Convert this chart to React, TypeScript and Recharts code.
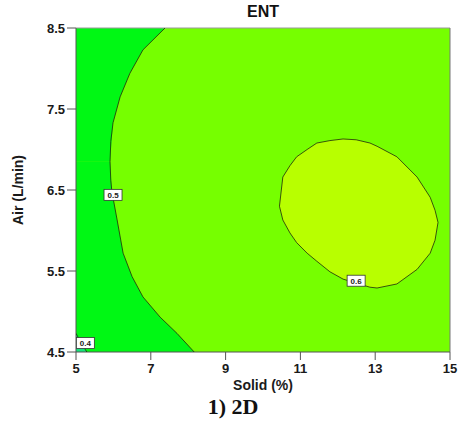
import React from 'react';
import {
  ComposedChart,
  Area,
  Scatter,
  XAxis,
  YAxis,
  CartesianGrid,
  ReferenceLine,
  Label,
} from 'recharts';

// axis ticks
const solidTicks = [5, 7, 9, 11, 13, 15];
const airTicks = [4.5, 5.5, 6.5, 7.5, 8.5];

// 0.5 contour, upper branch (dark green above it)
const contour05Upper = [
  { solid: 5, air: 6.85 },
  { solid: 5.91, air: 6.85 },
  { solid: 5.99, air: 7.33 },
  { solid: 6.18, air: 7.65 },
  { solid: 6.44, air: 7.94 },
  { solid: 6.79, air: 8.23 },
  { solid: 7.38, air: 8.5 },
];

// 0.5 contour, lower branch (dark green below it)
const contour05Lower = [
  { solid: 5, air: 6.85 },
  { solid: 5.91, air: 6.85 },
  { solid: 5.96, air: 6.48 },
  { solid: 6.1, air: 6.13 },
  { solid: 6.26, air: 5.72 },
  { solid: 6.5, air: 5.43 },
  { solid: 6.79, air: 5.18 },
  { solid: 7.25, air: 4.93 },
  { solid: 7.7, air: 4.73 },
  { solid: 8.16, air: 4.5 },
];

// the 0.5 line itself, top to bottom
const contour05Line = [
  { solid: 7.38, air: 8.5 },
  { solid: 6.79, air: 8.23 },
  { solid: 6.44, air: 7.94 },
  { solid: 6.18, air: 7.65 },
  { solid: 5.99, air: 7.33 },
  { solid: 5.93, air: 7.1 },
  { solid: 5.91, air: 6.85 },
  { solid: 5.93, air: 6.62 },
  { solid: 5.96, air: 6.48 },
  { solid: 6.1, air: 6.13 },
  { solid: 6.26, air: 5.72 },
  { solid: 6.5, air: 5.43 },
  { solid: 6.79, air: 5.18 },
  { solid: 7.25, air: 4.93 },
  { solid: 7.7, air: 4.73 },
  { solid: 8.16, air: 4.5 },
];

// 0.6 region: low / high air at each solid value
const contour06Solid = [10.44, 10.53, 10.72, 10.9, 11.18, 11.44, 11.79, 12.14, 12.49, 12.86, 13.05, 13.58, 14.12, 14.47, 14.6, 14.68];
const contour06Low = [6.3, 6.13, 5.97, 5.85, 5.72, 5.62, 5.49, 5.4, 5.35, 5.3, 5.29, 5.34, 5.52, 5.72, 5.88, 6.1];
const contour06High = [6.3, 6.66, 6.8, 6.91, 7.0, 7.08, 7.11, 7.13, 7.12, 7.08, 7.04, 6.91, 6.66, 6.41, 6.25, 6.1];

// 0.4 corner
const contour04 = [
  { solid: 5, air: 4.73 },
  { solid: 5.15, air: 4.6 },
  { solid: 5.29, air: 4.5 },
];

const contourLabels = [
  { solid: 5.99, air: 6.44, text: '0.5' },
  { solid: 12.49, air: 5.38, text: '0.6' },
  { solid: 5.25, air: 4.61, text: '0.4' },
];

const ellipseData = contour06Solid.map((s, i) => ({ solid: s, range: [contour06Low[i], contour06High[i]] }));
const ellipseLine = [
  ...contour06Solid.map((s, i) => ({ solid: s, air: contour06High[i] })),
  ...contour06Solid.map((s, i) => ({ solid: s, air: contour06Low[i] })).reverse(),
];

const font = '"Liberation Sans", Arial, sans-serif';
const tickStyle = { fill: '#1a1a1a', fontSize: 13, fontWeight: 700, fontFamily: font };
const lineStyle = { stroke: '#1f2a0c', strokeWidth: 0.8 };

const NoDot = () => <g />;

const LabelBox = (props: any) => {
  const { cx, cy, payload } = props;
  return (
    <g>
      <rect x={cx - 9} y={cy - 5.5} width={18} height={11} fill="#fff" stroke="#333" strokeWidth={0.8} />
      <text x={cx} y={cy + 3} textAnchor="middle" fontSize={8} fontWeight={700} fontFamily={font} fill="#222">
        {payload.text}
      </text>
    </g>
  );
};

export default function App() {
  return (
    <div style={{ position: 'absolute', left: 0, top: 0, width: 459, height: 435, background: '#fff' }}>
      <div
        style={{
          position: 'absolute', left: 76, width: 374, top: 3, textAlign: 'center',
          fontFamily: font, fontWeight: 700, fontSize: 16, color: '#111',
        }}
      >
        ENT
      </div>
      <ComposedChart width={459} height={435} margin={{ top: 28, right: 9, bottom: 43, left: 0 }}>
        <CartesianGrid horizontal={false} vertical={false} fill="#76ff00" />
        <XAxis
          type="number"
          dataKey="solid"
          domain={[5, 15]}
          ticks={solidTicks}
          allowDataOverflow
          height={40}
          tickSize={8}
          tickMargin={4}
          stroke="#555"
          tick={tickStyle}
        >
          <Label value="Solid (%)" position="insideBottom" offset={2}
            style={{ fill: '#1a1a1a', fontSize: 14, fontWeight: 700, fontFamily: font }} />
        </XAxis>
        <YAxis
          type="number"
          domain={[4.5, 8.5]}
          ticks={airTicks}
          allowDataOverflow
          width={76}
          tickSize={9}
          stroke="#555"
          tick={tickStyle}
          tickFormatter={(v: number) => v.toFixed(1)}
        >
          <Label value="Air (L/min)" angle={-90} position="insideLeft" offset={18} textAnchor="middle"
            style={{ fill: '#1a1a1a', fontSize: 14, fontWeight: 700, fontFamily: font, textAnchor: 'middle' }} />
        </YAxis>
        <Area data={contour05Upper} dataKey="air" type="linear" baseValue="dataMax"
          fill="#00f814" fillOpacity={1} stroke="none" isAnimationActive={false} />
        <Area data={contour05Lower} dataKey="air" type="linear"
          fill="#00f814" fillOpacity={1} stroke="none" isAnimationActive={false} />
        <Area data={contour04} dataKey="air" type="linear"
          fill="#14e57a" fillOpacity={1} stroke="none" isAnimationActive={false} />
        <Area data={ellipseData} dataKey="range" type="linear"
          fill="#b8ff00" fillOpacity={1} stroke="none" isAnimationActive={false} />
        <Scatter data={contour05Line} dataKey="air" line={lineStyle}
          lineType="joint" shape={NoDot} isAnimationActive={false} />
        <Scatter data={ellipseLine} dataKey="air" line={lineStyle}
          lineType="joint" shape={NoDot} isAnimationActive={false} />
        <Scatter data={contour04} dataKey="air" line={lineStyle}
          lineType="joint" shape={NoDot} isAnimationActive={false} />
        <ReferenceLine y={8.5} stroke="#999" />
        <ReferenceLine x={15} stroke="#777" />
        <Scatter data={contourLabels} dataKey="air" shape={LabelBox} isAnimationActive={false} />
      </ComposedChart>
      <div
        style={{
          position: 'absolute', left: 0, width: 466, top: 394, textAlign: 'center',
          fontFamily: '"Liberation Serif", "Times New Roman", serif', fontWeight: 700, fontSize: 22, color: '#111',
        }}
      >
        1) 2D
      </div>
    </div>
  );
}
